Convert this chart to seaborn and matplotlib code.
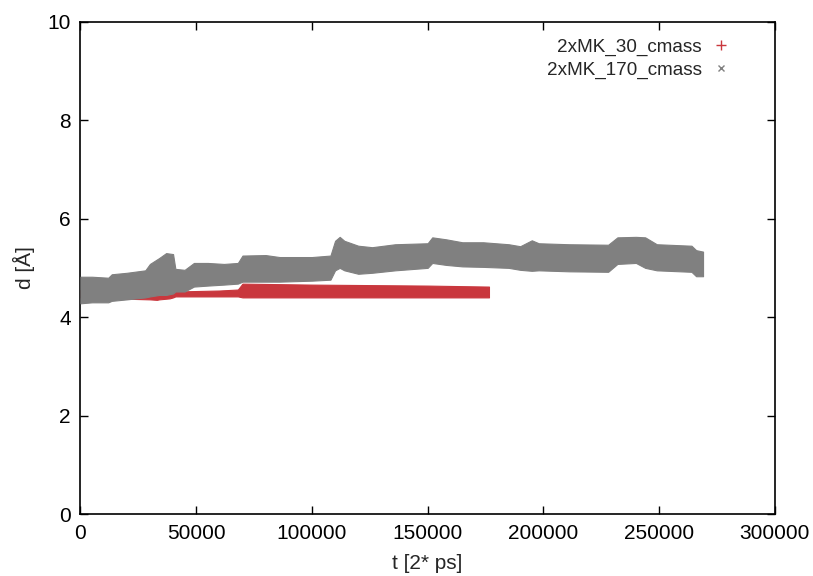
import matplotlib
matplotlib.use('Agg')
import matplotlib.pyplot as plt
import seaborn as sns
from matplotlib.lines import Line2D

# band edges (t, lower edge, upper edge)
t_170 = [0, 5000, 12000, 13500, 20000, 28000, 30000, 34000, 37000, 40000,
         41000, 45000, 49000, 55000, 62000, 68000, 70000, 80000, 86000,
         100000, 108000, 110000, 112000, 114000, 120000, 126000, 136000,
         150000, 152000, 158000, 165000, 174000, 185000, 190000, 195000,
         198000, 211000, 228000, 232000, 240000, 244000, 249000, 264000,
         266000, 269000]
lo_170 = [4.28, 4.30, 4.30, 4.33, 4.36, 4.40, 4.42, 4.45, 4.45, 4.48,
          4.52, 4.52, 4.62, 4.64, 4.66, 4.68, 4.72, 4.72, 4.72,
          4.74, 4.76, 4.95, 5.00, 4.95, 4.88, 4.90, 4.95,
          5.00, 5.10, 5.06, 5.03, 5.02, 5.00, 4.96, 4.94,
          4.95, 4.93, 4.92, 5.08, 5.10, 5.00, 4.95, 4.92,
          4.83, 4.83]
hi_170 = [4.82, 4.82, 4.80, 4.87, 4.90, 4.95, 5.08, 5.20, 5.30, 5.28,
          4.98, 4.96, 5.10, 5.10, 5.08, 5.10, 5.25, 5.26, 5.22,
          5.22, 5.25, 5.55, 5.63, 5.55, 5.45, 5.42, 5.48,
          5.50, 5.62, 5.58, 5.52, 5.52, 5.48, 5.44, 5.56,
          5.50, 5.48, 5.47, 5.62, 5.63, 5.62, 5.48, 5.45,
          5.36, 5.33]

t_30 = [0, 30000, 33000, 34000, 38500, 40000, 41000, 60000, 68000, 70000,
        100000, 150000, 176500]
lo_30 = [4.40, 4.36, 4.35, 4.36, 4.38, 4.40, 4.42, 4.42, 4.42, 4.40,
         4.40, 4.40, 4.40]
hi_30 = [4.55, 4.50, 4.50, 4.63, 4.64, 4.56, 4.52, 4.54, 4.56, 4.68,
         4.66, 4.64, 4.62]

red = '#c9373d'
grey = '#808080'

sns.set_style('ticks')
plt.rcParams['font.family'] = ['Liberation Sans', 'DejaVu Sans']

fig = plt.figure(figsize=(8.13, 5.76), dpi=100)
ax = fig.add_axes([0.099, 0.1076, 0.854, 0.8547])

ax.fill_between(t_30, lo_30, hi_30, color=red, lw=0.8, edgecolor=red, zorder=2)
ax.fill_between(t_170, lo_170, hi_170, color=grey, lw=0.8, edgecolor=grey,
                zorder=3)

ax.set_xlim(0, 300000)
ax.set_ylim(0, 10)
ax.set_xticks(range(0, 300001, 50000))
ax.set_yticks(range(0, 11, 2))
ax.tick_params(direction='in', length=6, width=1, top=True, right=True,
               labelsize=15, colors='black', pad=7)
for s in ax.spines.values():
    s.set_color('black')
    s.set_linewidth(1.2)

ax.set_xlabel('t [2* ps]', fontsize=15, labelpad=8)
ax.set_ylabel('d [Å]', fontsize=15, labelpad=9)

handles = [Line2D([], [], marker='+', ls='none', color=red, markersize=7, mew=1),
           Line2D([], [], marker='x', ls='none', color=grey, markersize=5, mew=1)]
ax.legend(handles, ['2xMK_30_cmass', '2xMK_170_cmass'], loc='upper right',
          bbox_to_anchor=(0.9575, 1.0), frameon=False, markerfirst=False,
          fontsize=13.6, handlelength=0.8, handletextpad=0.6, labelspacing=0.3)

fig.savefig('out.png', dpi=100)
